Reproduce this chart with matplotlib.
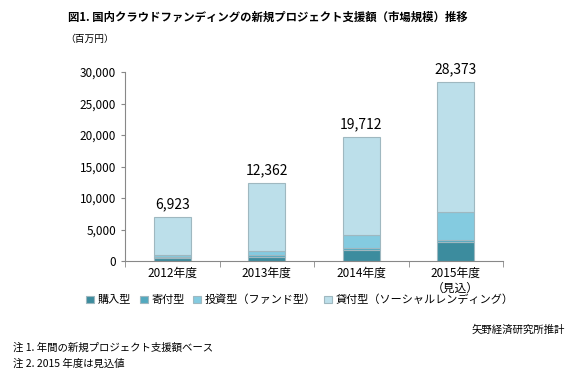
import matplotlib.pyplot as plt
import numpy as np

plt.rcParams['font.family'] = ['Noto Sans CJK JP', 'DejaVu Sans']

years = ['2012年度', '2013年度', '2014年度', '2015年度\n（見込）']
totals = [6923, 12362, 19712, 28373]
kounyu = [500, 700, 1800, 3000]      # 購入型
kifu = [100, 200, 300, 300]          # 寄付型
toushi = [300, 700, 2000, 4500]      # 投資型（ファンド型）
kashitsuke = [t - a - b - c for t, a, b, c in zip(totals, kounyu, kifu, toushi)]  # 貸付型

series = [
    ('購入型', kounyu, '#3c8c9e'),
    ('寄付型', kifu, '#52a9bf'),
    ('投資型（ファンド型）', toushi, '#84cbe0'),
    ('貸付型（ソーシャルレンディング）', kashitsuke, '#bcdfea'),
]

fig = plt.figure(figsize=(5.8, 3.74), dpi=100)
ax = fig.add_axes([125 / 580, 1 - 261 / 374, 378 / 580, 189 / 374])

x = np.arange(len(years))
bottom = np.zeros(len(years))
for name, vals, col in series:
    ax.bar(x, vals, width=0.39, bottom=bottom, color=col, edgecolor='#9fb8c0',
           linewidth=0.8, label=name)
    bottom += np.array(vals)

for xi, t in zip(x, totals):
    ax.text(xi, t + 900, f'{t:,}', ha='center', va='bottom', fontsize=10)

ax.set_xlim(-0.5, 3.5)
ax.set_ylim(0, 30000)
ax.set_yticks(range(0, 30001, 5000))
ax.set_yticklabels([f'{v:,}' for v in range(0, 30001, 5000)], fontsize=8.5)
ax.set_xticks(x)
ax.set_xticklabels(years, fontsize=8.5, linespacing=1.2)
ax.set_xticks(np.arange(-0.5, 4, 1), minor=True)
ax.tick_params(axis='x', which='major', length=0, pad=4)
ax.tick_params(axis='x', which='minor', length=4, color='#888888', direction='out')
ax.tick_params(axis='y', length=3, color='#888888')
for s in ['top', 'right']:
    ax.spines[s].set_visible(False)
for s in ['left', 'bottom']:
    ax.spines[s].set_color('#888888')

fig.legend(loc='center', bbox_to_anchor=(300 / 580, 1 - 300 / 374), ncol=4,
           fontsize=8, frameon=False, handlelength=0.7, handleheight=0.7,
           handletextpad=0.3, columnspacing=0.8)

fig.text(268 / 580, 1 - 17 / 374, '図1. 国内クラウドファンディングの新規プロジェクト支援額（市場規模）推移',
         ha='center', va='center', fontsize=8.2, fontweight='bold')
fig.text(65 / 580, 1 - 39 / 374, '（百万円）', ha='left', va='center', fontsize=7)
fig.text(565 / 580, 1 - 330 / 374, '矢野経済研究所推計', ha='right', va='center', fontsize=7.5)
fig.text(13 / 580, 1 - 348 / 374, '注 1. 年間の新規プロジェクト支援額ベース', ha='left', va='center', fontsize=7.5)
fig.text(13 / 580, 1 - 364 / 374, '注 2. 2015 年度は見込値', ha='left', va='center', fontsize=7.5)

fig.savefig('out.png', dpi=100)
